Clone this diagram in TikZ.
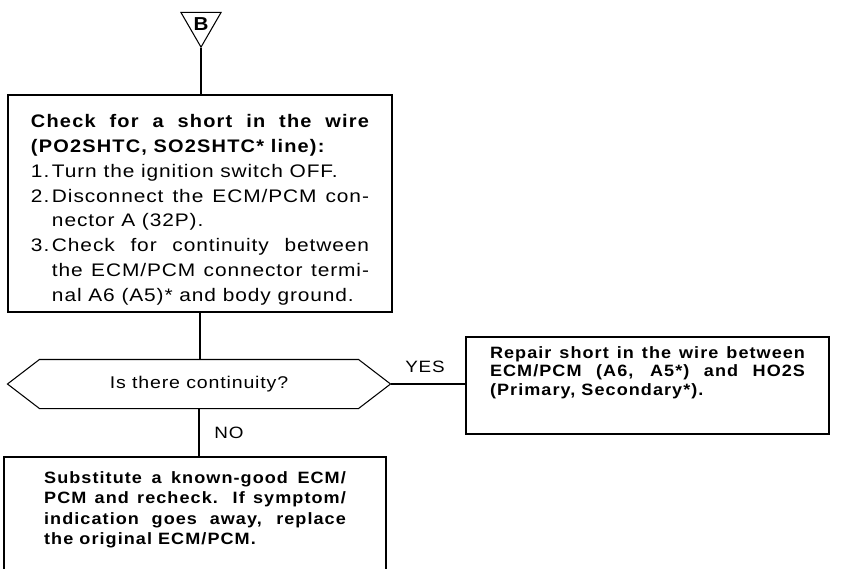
\documentclass[tikz,border=0pt]{standalone}
\usepackage{fontspec}
\setmainfont{Liberation Sans}[FakeStretch=1.15,LetterSpace=5]
\newfontfamily\boldface{Liberation Sans}[FakeStretch=1.1,LetterSpace=6.5]
\usetikzlibrary{shapes.geometric,positioning}
\hyphenpenalty=10000
\exhyphenpenalty=10000
\tolerance=10000
\hbadness=10000
\newcommand{\stepitem}[1]{\par\hangindent=0.63cm\hangafter=1\noindent\makebox[0.63cm][l]{#1}}

\begin{document}
\begin{tikzpicture}[x=0.03cm,y=-0.03cm,line width=0.9pt,
  font=\fontsize{14pt}{17pt}\selectfont,
  box/.style={draw,inner xsep=0pt,inner ysep=0pt,align=justify}]
\useasboundingbox (0,0) rectangle (850,569);
\clip (0,0) rectangle (850,569);
% entry tag
\node[draw,regular polygon,regular polygon sides=3,shape border rotate=180,minimum size=1.39cm,inner sep=0pt,font=\fontsize{16pt}{18pt}\boldface\bfseries] (tagB) at (201,24) {B};
% first check
\node[box,minimum width=11.52cm,text width=10.14cm,text height=0.99cm,text depth=5.52cm,font=\fontsize{15.5pt}{21.1pt}\selectfont] (check) at (200,203.5)
  {{\boldface\bfseries Check for a short in the wire\linebreak (PO2SHTC, SO2SHTC* line):}
   \stepitem{1.}Turn the ignition switch OFF.
   \stepitem{2.}Disconnect the ECM/PCM con-\linebreak nector A (32P).
   \stepitem{3.}Check for continuity between\linebreak the ECM/PCM connector termi-\linebreak nal A6 (A5)* and body ground.\par};
% decision
\node[minimum width=11.46cm,minimum height=1.44cm,inner sep=0pt,font=\fontsize{14.5pt}{17pt}\selectfont] (ask) at (199,384) {Is there continuity?};
\draw (ask.west) -- ([xshift=0.96cm]ask.north west) -- ([xshift=-0.96cm]ask.north east) -- (ask.east)
  -- ([xshift=-0.96cm]ask.south east) -- ([xshift=0.96cm]ask.south west) -- cycle;
% outcomes
\node[box,minimum width=10.89cm,text width=9.45cm,text height=0.63cm,text depth=2.28cm,font=\fontsize{14pt}{16pt}\boldface\bfseries] (repair) at (647.5,385.5)
  {Repair short in the wire between\linebreak ECM/PCM (A6, A5*) and HO2S\linebreak (Primary, Secondary*).};
\node[box,minimum width=11.46cm,text width=9.05cm,text height=0.78cm,text depth=3.21cm,font=\fontsize{14pt}{17.5pt}\boldface\bfseries] (swap) at (195,523.5)
  {Substitute a known-good ECM/\linebreak PCM and recheck. If symptom/\linebreak indication goes away, replace\linebreak the original ECM/PCM.};
\node (yes) at (425,367) {YES};
\node (no) at (229,433) {NO};
% connectors
\draw (tagB.south) -- (tagB.south |- check.north);
\draw (check.south) -- (check.south |- ask.north);
\draw (ask.south) -- (ask.south |- swap.north);
\draw (ask.east) -- (ask.east -| repair.west);
\end{tikzpicture}
\end{document}
